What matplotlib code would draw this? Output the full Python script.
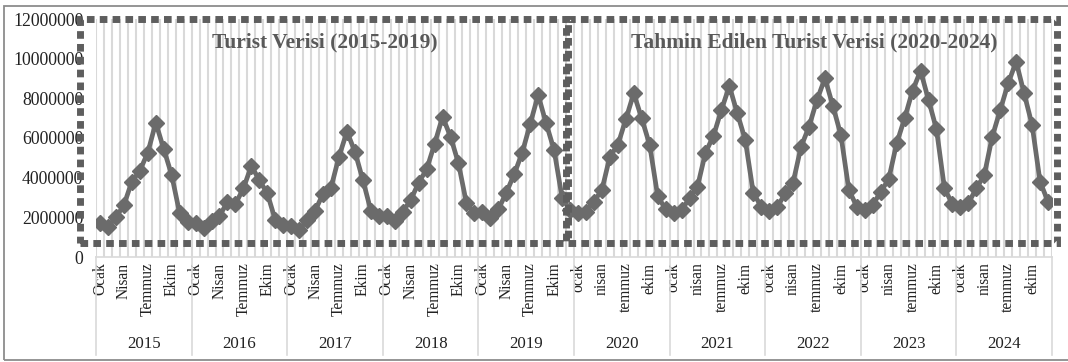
import numpy as np
import matplotlib
matplotlib.use('Agg')
import matplotlib.pyplot as plt
from matplotlib.patches import Rectangle
from matplotlib.lines import Line2D

plt.rcParams['font.family'] = ['Liberation Serif', 'DejaVu Serif']

years = [2015, 2016, 2017, 2018, 2019, 2020, 2021, 2022, 2023, 2024]
months_old = ['Ocak', 'Nisan', 'Temmuz', 'Ekim']
months_new = ['ocak', 'nisan', 'temmuz', 'ekim']

# monthly tourist counts, 2015-2019 actual, 2020-2024 forecast
tourists = [
    1730000, 1530000, 2000000, 2620000, 3800000, 4350000, 5260000, 6770000, 5450000, 4130000, 2200000, 1750000,
    1700000, 1480000, 1830000, 2070000, 2770000, 2670000, 3460000, 4590000, 3880000, 3210000, 1870000, 1630000,
    1560000, 1360000, 1870000, 2340000, 3180000, 3500000, 5060000, 6320000, 5310000, 3880000, 2340000, 2070000,
    2070000, 1830000, 2280000, 2870000, 3750000, 4420000, 5700000, 7070000, 6070000, 4720000, 2710000, 2200000,
    2250000, 1950000, 2400000, 3240000, 4180000, 5260000, 6710000, 8170000, 6740000, 5400000, 3000000, 2350000,
    2200000, 2280000, 2790000, 3380000, 5060000, 5650000, 6940000, 8250000, 6990000, 5650000, 3080000, 2400000,
    2200000, 2370000, 2960000, 3550000, 5260000, 6100000, 7410000, 8620000, 7240000, 5900000, 3240000, 2540000,
    2340000, 2500000, 3210000, 3750000, 5560000, 6570000, 7920000, 9010000, 7610000, 6150000, 3380000, 2540000,
    2370000, 2620000, 3290000, 3920000, 5730000, 6990000, 8390000, 9390000, 7920000, 6440000, 3460000, 2670000,
    2500000, 2710000, 3460000, 4130000, 6070000, 7410000, 8760000, 9850000, 8250000, 6660000, 3800000, 2790000,
]

title_old = 'Turist Verisi (2015-2019)'
title_new = 'Tahmin Edilen Turist Verisi (2020-2024)'

W, H = 1068, 362
fig = plt.figure(figsize=(W / 100, H / 100), dpi=100)
ax = fig.add_axes([96 / W, 1 - 257 / H, 956 / W, 238 / H])

x = np.arange(len(tourists))
ax.plot(x, tourists, color='#6b6b6b', lw=3.4, marker='D', ms=8.5, zorder=3)

ax.set_xlim(-0.5, len(tourists) - 0.5)
ax.set_ylim(0, 12000000)
ax.set_yticks(np.arange(0, 12000001, 2000000))
ax.set_yticklabels([str(v) for v in range(0, 12000001, 2000000)], fontsize=12.8)
ax.tick_params(axis='y', length=0, pad=9, colors='#222222')

# month labels (every third month)
pos, labs = [], []
for k, yr in enumerate(years):
    names = months_old if yr < 2020 else months_new
    for j, name in enumerate(names):
        pos.append(12 * k + 3 * j)
        labs.append(name)
ax.set_xticks(pos)
ax.set_xticklabels(labs, rotation=90, fontsize=11.2, va='top')
ax.tick_params(axis='x', length=0, pad=4, colors='#222222')

# vertical gridlines between months
ax.set_xticks(np.arange(len(tourists) + 1) - 0.5, minor=True)
ax.tick_params(axis='x', which='minor', length=0)
ax.grid(True, which='minor', axis='x', color='#d9d9d9', lw=1.5)
ax.grid(False, which='major')

for s in ['top', 'right', 'left']:
    ax.spines[s].set_visible(False)
ax.spines['bottom'].set_color('#d9d9d9')
ax.spines['bottom'].set_linewidth(1.2)

# year group labels and separators
trans = ax.get_xaxis_transform()
for k, yr in enumerate(years):
    ax.text(12 * k + 5.5, -0.365, str(yr), transform=trans, ha='center', va='center',
            fontsize=12.2, color='#222222')
for k in range(len(years) + 1):
    ax.add_line(Line2D([12 * k - 0.5, 12 * k - 0.5], [0, -0.41], transform=trans,
                       color='#d9d9d9', lw=1.2, clip_on=False))

# dashed boxes
box_kw = dict(fill=False, ec='#5e5e5e', lw=5, linestyle=(0, (1.1, 0.75)),
              clip_on=False, zorder=4, capstyle='butt')
ax.add_patch(Rectangle((-2.5, 700000), 61.0, 11300000, **box_kw))
ax.add_patch(Rectangle((58.8, 700000), 61.3, 11300000, **box_kw))

ax.text(28.2, 10800000, title_old, ha='center', va='center', fontsize=15.5,
        fontweight='bold', color='#595959', zorder=5)
ax.text(89.7, 10800000, title_new, ha='center', va='center', fontsize=15.5,
        fontweight='bold', color='#595959', zorder=5)

# outer frame
fig.add_artist(Rectangle((3.5 / W, 2.5 / H), 1.2, (H - 8) / H, transform=fig.transFigure,
                         fill=False, ec='#8c8c8c', lw=1.3))

fig.savefig('out.png', dpi=100)
